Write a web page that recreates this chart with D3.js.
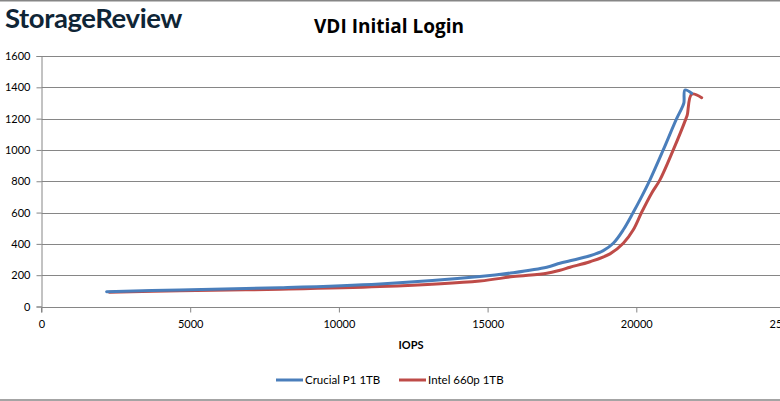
<!DOCTYPE html>
<html><head><meta charset="utf-8">
<script src="https://cdn.jsdelivr.net/npm/d3@7"></script>
<style>body{margin:0;background:#fff}svg{display:block}</style>
</head><body>
<svg id="c" width="780" height="401"></svg>
<script>
const title = "VDI Initial Login";
const xLabel = "IOPS";
const xTicks = [0, 5000, 10000, 15000, 20000, 25000];
const yTicks = [0, 200, 400, 600, 800, 1000, 1200, 1400, 1600];
const seriesNames = ["Crucial P1 1TB", "Intel 660p 1TB"];
const crucialIops = [2190, 4650, 8020, 11380, 14740, 15860, 16990, 17430, 17772, 18444, 18890, 19226, 19563, 19899, 20180, 20460, 20906, 21356, 21527, 21600, 21637, 21860];
const crucialLat  = [95, 106, 120, 144, 191, 216, 251, 276, 292, 324, 357, 404, 490, 602, 702, 809, 1000, 1200, 1266, 1300, 1383, 1362];
const intelIops = [2280, 4650, 8020, 11380, 14740, 15860, 16990, 17436, 17772, 18444, 19115, 19563, 19899, 20180, 20516, 20795, 21243, 21670, 21714, 21862, 22198];
const intelLat  = [91, 101, 110, 127, 163, 191, 212, 232, 251, 286, 336, 404, 490, 602, 724, 809, 1000, 1200, 1224, 1356, 1334];

const colors = ["#4a7ebb", "#be4b48"];
const svg = d3.select("#c");
const x = d3.scaleLinear().domain([0, 25000]).range([41.5, 785]);
const y = d3.scaleLinear().domain([0, 1600]).range([306.5, 56]);

// borders
svg.append("line").attr("x1",0).attr("x2",780).attr("y1",0.5).attr("y2",0.5).attr("stroke","#868686").attr("stroke-width",2);
svg.append("line").attr("x1",0).attr("x2",780).attr("y1",400).attr("y2",400).attr("stroke","#868686").attr("stroke-width",1.5);

// logo
svg.append("text").attr("x",5).attr("y",28).attr("font-family","Lato, 'Open Sans', sans-serif")
  .attr("font-size",27.5).attr("font-weight",700).attr("fill","#0f2536").attr("letter-spacing",-0.4).text("StorageReview");

// title
svg.append("text").attr("x",389).attr("y",33).attr("text-anchor","middle")
  .attr("font-family","'Open Sans', Lato, sans-serif").attr("font-weight",700).attr("font-size",19).attr("fill","#000").text(title);

// gridlines
svg.append("g").selectAll("line").data(yTicks.filter(d=>d>0)).join("line")
  .attr("x1",41.5).attr("x2",780).attr("y1",d=>Math.round(y(d))+0.5).attr("y2",d=>Math.round(y(d))+0.5)
  .attr("stroke","#868686").attr("stroke-width",1);

// y axis
const yAxis = svg.append("g").attr("transform","translate(41.5,0)")
  .call(d3.axisLeft(y).tickValues(yTicks).tickSize(5).tickPadding(6).tickFormat(d3.format("d")));
// x axis
const xAxis = svg.append("g").attr("transform",`translate(0,${Math.round(y(0))+0.5})`)
  .call(d3.axisBottom(x).tickValues(xTicks).tickSize(5).tickPadding(8).tickFormat(d3.format("d")));
[yAxis,xAxis].forEach(a=>{
  a.select(".domain").attr("stroke","#868686");
  a.selectAll(".tick line").attr("stroke","#868686");
  a.selectAll("text").attr("font-family","Lato, 'Open Sans', sans-serif").attr("font-size",11).attr("fill","#000");
});
xAxis.select(".domain").attr("d",`M41.5,0V5M41.5,0H780`);

svg.append("text").attr("x",411).attr("y",349).attr("text-anchor","middle")
  .attr("font-family","Lato, 'Open Sans', sans-serif").attr("font-weight",700).attr("font-size",11).text(xLabel);

// lines
const line = d3.line().x(d=>x(d[0])).y(d=>y(d[1])).curve(d3.curveCatmullRom.alpha(0.5));
const series = [d3.zip(crucialIops, crucialLat), d3.zip(intelIops, intelLat)];
[1,0].forEach(i=>{
  svg.append("path").datum(series[i]).attr("d",line).attr("fill","none")
    .attr("stroke",colors[i]).attr("stroke-width",3).attr("stroke-linejoin","round").attr("stroke-linecap","round");
});

// legend
const lx = [276, 399];
seriesNames.forEach((n,i)=>{
  svg.append("line").attr("x1",lx[i]).attr("x2",lx[i]+27).attr("y1",380).attr("y2",380)
    .attr("stroke",colors[i]).attr("stroke-width",3);
  svg.append("text").attr("x",lx[i]+29).attr("y",384).attr("font-family","Lato, 'Open Sans', sans-serif")
    .attr("font-size",11.5).attr("fill","#000").text(n);
});
</script>
</body></html>
